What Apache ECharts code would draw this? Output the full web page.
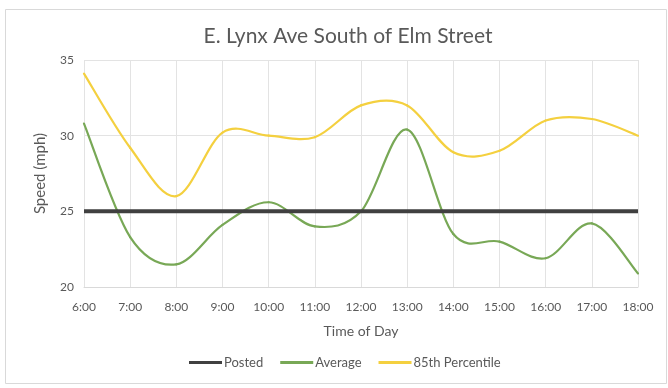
<!DOCTYPE html>
<html>
<head>
<meta charset="utf-8">
<script src="https://cdn.jsdelivr.net/npm/echarts@6/dist/echarts.min.js"></script>
<style>
  html, body { margin: 0; padding: 0; background: #fff; }
  #chart { width: 668px; height: 388px; }
</style>
</head>
<body>
<div id="chart"></div>
<script>
// Hourly speed observations, E. Lynx Ave south of Elm Street
const times = ['6:00','7:00','8:00','9:00','10:00','11:00','12:00','13:00','14:00','15:00','16:00','17:00','18:00'];
const posted = [25,25,25,25,25,25,25,25,25,25,25,25,25];
const average = [30.8,23.3,21.5,24.1,25.6,24.0,25.0,30.4,23.5,23.0,21.9,24.2,20.9];
const pct85 = [34.1,29.2,26.0,30.2,30.0,29.9,32.0,32.0,28.9,29.0,31.0,31.1,30.0];
const yTicks = [20,25,30,35];

const FONT = 'Lato, "Open Sans", sans-serif';
const TXT = '#595959';

// Cardinal (Catmull-Rom) spline drawn segment by segment through the grid's
// own coordinate system, giving the rounded office-style smoothed line.
function splineSeries(name, values, color, width) {
  return {
    name: name,
    type: 'custom',
    coordinateSystem: 'cartesian2d',
    data: values.slice(0, -1).map((v, i) => [i, v]),
    encode: { x: 0, y: 1 },
    itemStyle: { color: color },
    z: 2,
    silent: true,
    renderItem: function (params, api) {
      const i = params.dataIndex;
      const n = values.length;
      const p = k => {
        const j = Math.max(0, Math.min(n - 1, k));
        return api.coord([j, values[j]]);
      };
      const p0 = p(i - 1), p1 = p(i), p2 = p(i + 1), p3 = p(i + 2);
      return {
        type: 'bezierCurve',
        shape: {
          x1: p1[0], y1: p1[1],
          cpx1: p1[0] + (p2[0] - p0[0]) / 6, cpy1: p1[1] + (p2[1] - p0[1]) / 6,
          cpx2: p2[0] - (p3[0] - p1[0]) / 6, cpy2: p2[1] - (p3[1] - p1[1]) / 6,
          x2: p2[0], y2: p2[1]
        },
        style: { stroke: color, lineWidth: width, fill: null, lineCap: 'round' }
      };
    }
  };
}

const chart = echarts.init(document.getElementById('chart'));
chart.setOption({
  animation: false,
  backgroundColor: '#fff',
  graphic: [{
    type: 'rect', left: 3, top: 7,
    shape: { width: 661, height: 374 },
    style: { fill: 'none', stroke: '#d9d9d9', lineWidth: 1 },
    silent: true
  }],
  title: {
    text: 'E. Lynx Ave South of Elm Street',
    left: 343, top: 21, textAlign: 'center',
    textStyle: { fontFamily: FONT, fontSize: 21, fontWeight: 'normal', color: TXT }
  },
  grid: { left: 84, right: 30, top: 60, bottom: 101 },
  legend: {
    bottom: 14, left: 184,
    itemWidth: 33, itemHeight: 3, itemGap: 17,
    icon: 'rect',
    textStyle: { fontFamily: FONT, fontSize: 13, color: TXT, padding: [0, 0, 0, -3] },
    data: ['Posted', 'Average', '85th Percentile']
  },
  xAxis: {
    type: 'category', data: times, boundaryGap: false,
    name: 'Time of Day', nameLocation: 'middle', nameGap: 37,
    nameTextStyle: { fontFamily: FONT, fontSize: 14, color: TXT },
    axisLine: { lineStyle: { color: '#d9d9d9' } },
    axisTick: { show: false },
    axisLabel: { fontFamily: FONT, fontSize: 12, color: TXT, margin: 14 },
    splitLine: { show: true, lineStyle: { color: '#e3e3e3' } }
  },
  yAxis: {
    type: 'value', min: yTicks[0], max: yTicks[yTicks.length - 1], interval: 5,
    name: 'Speed (mph)', nameLocation: 'middle', nameGap: 36,
    nameTextStyle: { fontFamily: FONT, fontSize: 15, color: TXT },
    axisLine: { show: false }, axisTick: { show: false },
    axisLabel: { fontFamily: FONT, fontSize: 12, color: TXT, margin: 10 },
    splitLine: { lineStyle: { color: '#e3e3e3' } }
  },
  series: [
    { name: 'Posted', type: 'line', data: posted, showSymbol: false,
      lineStyle: { color: '#404040', width: 4 }, itemStyle: { color: '#404040' }, z: 3 },
    splineSeries('Average', average, '#78a856', 2.2),
    splineSeries('85th Percentile', pct85, '#f4d03f', 2.2)
  ]
});
</script>
</body>
</html>
